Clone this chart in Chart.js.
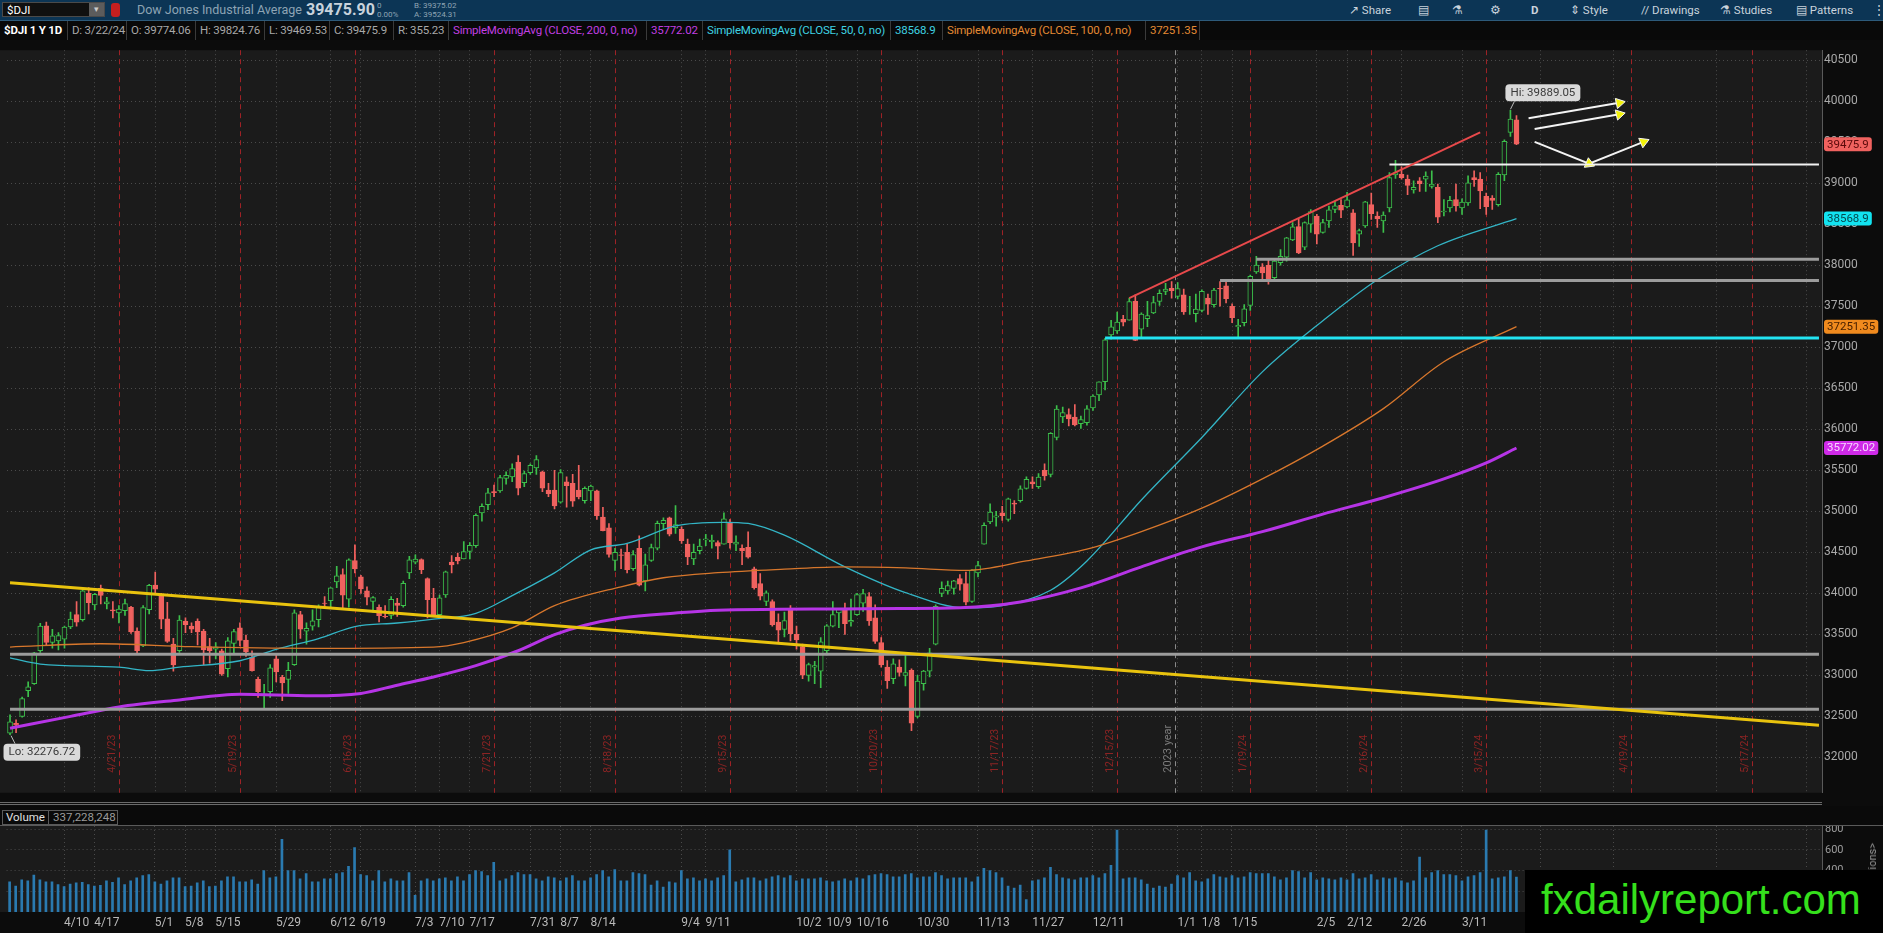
<!DOCTYPE html>
<html lang="en">
<head>
<meta charset="UTF-8">
<title>$DJI 1 Y 1D</title>
<script src="https://cdn.jsdelivr.net/npm/chart.js"></script>
<style>
  html, body { margin: 0; padding: 0; background: #0c0c0c; }
  body { width: 1883px; height: 933px; position: relative; overflow: hidden; font-family: Roboto, "Open Sans", sans-serif; }
  .abs { position: absolute; white-space: nowrap; }
  #toolbar { left: 0; top: 0; width: 1883px; height: 20px; background: #0c3555; border-bottom: 1px solid #2d5a7a; }
  #infobar { left: 0; top: 21px; width: 1883px; height: 19px; background: #090909; }
  .cell { position: absolute; top: 0; height: 19px; line-height: 19px; font-size: 11.5px; color: #a8a8a8; padding-left: 4px; box-sizing: border-box; border-right: 1px solid #3a3a3a; letter-spacing: -0.2px; }
  .tb { position: absolute; top: 0; height: 20px; line-height: 20px; font-size: 11.5px; color: #c9d3dc; }
  #priceBox { left: 0; top: 41px; width: 1883px; height: 761px; }
  #volBox { left: 0; top: 806px; width: 1883px; height: 127px; }
</style>
</head>
<body>

<div id="toolbar" class="abs">
  <div class="abs" style="left:2px;top:2px;width:103px;height:15px;background:#101010;border:1px solid #4a4a4a;box-sizing:border-box;"></div>
  <div class="tb" style="left:7px;color:#fff;font-size:11.5px;">$DJI</div>
  <div class="abs" style="left:89px;top:3px;width:15px;height:13px;background:#5c5c5c;color:#ccc;font-size:9px;text-align:center;line-height:13px;">&#9662;</div>
  <div class="abs" style="left:111px;top:3px;width:9px;height:14px;background:#c41f1f;border-radius:3px;"></div>
  <div class="tb" style="left:137px;color:#8ea4b4;font-size:12.5px;">Dow Jones Industrial Average</div>
  <div class="tb" style="left:306px;font-size:16px;font-weight:bold;color:#c8d2dc;">39475.90</div>
  <div class="abs" style="left:377px;top:1px;font-size:8px;line-height:9px;color:#8ea4b4;">0<br>0.00%</div>
  <div class="abs" style="left:414px;top:1px;font-size:8px;line-height:9px;color:#8ea4b4;">B: 39375.02<br>A: 39524.31</div>

  <div class="tb" style="left:1349px;">&#8599;&#xFE0E; Share</div>
  <div class="tb" style="left:1418px;">&#9636;</div>
  <div class="tb" style="left:1452px;">&#9879;</div>
  <div class="tb" style="left:1490px;">&#9881;</div>
  <div class="tb" style="left:1531px;font-weight:bold;">D</div>
  <div class="tb" style="left:1570px;">&#8661; Style</div>
  <div class="tb" style="left:1641px;">// Drawings</div>
  <div class="tb" style="left:1720px;">&#9879; Studies</div>
  <div class="tb" style="left:1796px;">&#9636; Patterns</div>
  <div class="tb" style="left:1873px;">&#8942;</div>
</div>

<div id="infobar" class="abs">
  <div class="cell" style="left:0;width:68px;color:#fff;font-weight:bold;">$DJI 1 Y 1D</div>
  <div class="cell" style="left:68px;width:59px;">D: 3/22/24</div>
  <div class="cell" style="left:127px;width:69px;">O: 39774.06</div>
  <div class="cell" style="left:196px;width:69px;">H: 39824.76</div>
  <div class="cell" style="left:265px;width:65px;">L: 39469.53</div>
  <div class="cell" style="left:330px;width:64px;">C: 39475.9</div>
  <div class="cell" style="left:394px;width:55px;">R: 355.23</div>
  <div class="cell" style="left:449px;width:198px;color:#c23fe2;">SimpleMovingAvg (CLOSE, 200, 0, no)</div>
  <div class="cell" style="left:647px;width:56px;color:#c23fe2;">35772.02</div>
  <div class="cell" style="left:703px;width:188px;color:#3fd2e2;">SimpleMovingAvg (CLOSE, 50, 0, no)</div>
  <div class="cell" style="left:891px;width:52px;color:#3fd2e2;">38568.9</div>
  <div class="cell" style="left:943px;width:203px;color:#e48a34;">SimpleMovingAvg (CLOSE, 100, 0, no)</div>
  <div class="cell" style="left:1146px;width:54px;color:#e48a34;">37251.35</div>
</div>

<div id="priceBox" class="abs"><canvas id="priceChart"></canvas></div>

<div class="abs" style="left:0;top:802px;width:1822px;height:1px;background:#6a6a6a;"></div>
<div class="abs" style="left:0;top:804px;width:1822px;height:1px;background:#6a6a6a;"></div>

<div id="volBox" class="abs"><canvas id="volChart"></canvas></div>

<div class="abs" style="left:0;top:806px;width:1883px;height:20px;background:#0a0a0a;border-bottom:1px solid #5a5a5a;box-sizing:border-box;z-index:2;">
  <div class="abs" style="left:2px;top:4px;width:47px;height:15px;border:1px solid #5a5a5a;box-sizing:border-box;color:#e0e0e0;font-size:11.5px;line-height:13px;padding-left:3px;">Volume</div>
  <div class="abs" style="left:49px;top:4px;width:69px;height:15px;border:1px solid #5a5a5a;border-left:none;box-sizing:border-box;color:#9a9a9a;font-size:11.5px;line-height:13px;padding-left:4px;">337,228,248</div>
</div>

<div class="abs" style="left:1866px;top:843px;writing-mode:vertical-rl;transform:rotate(180deg);font-size:11px;color:#999;">&lt;Millions&gt;</div>

<div class="abs" style="left:1525px;top:870px;width:358px;height:63px;background:#000;z-index:3;">
  <div class="abs" style="left:16px;top:6px;font-family:'Liberation Sans',Arial,sans-serif;font-size:42px;color:#35e01c;">fxdailyreport.com</div>
</div>

<script>
// trading days shown on the chart, then empty future slots
const dates = [
  '3/27/23','3/28/23','3/29/23','3/30/23','3/31/23',
  '4/3/23','4/4/23','4/5/23','4/6/23','4/10/23','4/11/23','4/12/23','4/13/23','4/14/23','4/17/23','4/18/23','4/19/23','4/20/23','4/21/23','4/24/23','4/25/23','4/26/23','4/27/23','4/28/23',
  '5/1/23','5/2/23','5/3/23','5/4/23','5/5/23','5/8/23','5/9/23','5/10/23','5/11/23','5/12/23','5/15/23','5/16/23','5/17/23','5/18/23','5/19/23','5/22/23','5/23/23','5/24/23','5/25/23','5/26/23','5/30/23','5/31/23',
  '6/1/23','6/2/23','6/5/23','6/6/23','6/7/23','6/8/23','6/9/23','6/12/23','6/13/23','6/14/23','6/15/23','6/16/23','6/20/23','6/21/23','6/22/23','6/23/23','6/26/23','6/27/23','6/28/23','6/29/23','6/30/23',
  '7/3/23','7/5/23','7/6/23','7/7/23','7/10/23','7/11/23','7/12/23','7/13/23','7/14/23','7/17/23','7/18/23','7/19/23','7/20/23','7/21/23','7/24/23','7/25/23','7/26/23','7/27/23','7/28/23','7/31/23',
  '8/1/23','8/2/23','8/3/23','8/4/23','8/7/23','8/8/23','8/9/23','8/10/23','8/11/23','8/14/23','8/15/23','8/16/23','8/17/23','8/18/23','8/21/23','8/22/23','8/23/23','8/24/23','8/25/23','8/28/23','8/29/23','8/30/23','8/31/23',
  '9/1/23','9/5/23','9/6/23','9/7/23','9/8/23','9/11/23','9/12/23','9/13/23','9/14/23','9/15/23','9/18/23','9/19/23','9/20/23','9/21/23','9/22/23','9/25/23','9/26/23','9/27/23','9/28/23','9/29/23',
  '10/2/23','10/3/23','10/4/23','10/5/23','10/6/23','10/9/23','10/10/23','10/11/23','10/12/23','10/13/23','10/16/23','10/17/23','10/18/23','10/19/23','10/20/23','10/23/23','10/24/23','10/25/23','10/26/23','10/27/23','10/30/23','10/31/23',
  '11/1/23','11/2/23','11/3/23','11/6/23','11/7/23','11/8/23','11/9/23','11/10/23','11/13/23','11/14/23','11/15/23','11/16/23','11/17/23','11/20/23','11/21/23','11/22/23','11/24/23','11/27/23','11/28/23','11/29/23','11/30/23',
  '12/1/23','12/4/23','12/5/23','12/6/23','12/7/23','12/8/23','12/11/23','12/12/23','12/13/23','12/14/23','12/15/23','12/18/23','12/19/23','12/20/23','12/21/23','12/22/23','12/26/23','12/27/23','12/28/23','12/29/23',
  '1/2/24','1/3/24','1/4/24','1/5/24','1/8/24','1/9/24','1/10/24','1/11/24','1/12/24','1/16/24','1/17/24','1/18/24','1/19/24','1/22/24','1/23/24','1/24/24','1/25/24','1/26/24','1/29/24','1/30/24','1/31/24',
  '2/1/24','2/2/24','2/5/24','2/6/24','2/7/24','2/8/24','2/9/24','2/12/24','2/13/24','2/14/24','2/15/24','2/16/24','2/20/24','2/21/24','2/22/24','2/23/24','2/26/24','2/27/24','2/28/24','2/29/24',
  '3/1/24','3/4/24','3/5/24','3/6/24','3/7/24','3/8/24','3/11/24','3/12/24','3/13/24','3/14/24','3/15/24','3/18/24','3/19/24','3/20/24','3/21/24','3/22/24'
];
const futureDates = [
  '3/25/24','3/26/24','3/27/24','3/28/24',
  '4/1/24','4/2/24','4/3/24','4/4/24','4/5/24','4/8/24','4/9/24','4/10/24','4/11/24','4/12/24','4/15/24','4/16/24','4/17/24','4/18/24','4/19/24','4/22/24','4/23/24','4/24/24','4/25/24','4/26/24','4/29/24','4/30/24',
  '5/1/24','5/2/24','5/3/24','5/6/24','5/7/24','5/8/24','5/9/24','5/10/24','5/13/24','5/14/24','5/15/24','5/16/24','5/17/24','5/20/24','5/21/24','5/22/24','5/23/24','5/24/24','5/28/24','5/29/24','5/30/24','5/31/24',
  '6/3/24','6/4/24'
];

const open = [
  32296,32414,32500,32812,32900,
  33300,33604,33400,33420,33440,33590,33740,33680,34000,33860,34060,33870,33800,33760,33790,33830,33540,33360,33800,
  34100,33980,33690,33380,33300,33660,33600,33660,33540,33350,33320,33300,33080,33390,33580,33430,33220,32950,32760,32800,33200,32980,
  32950,33130,33740,33540,33600,33680,33880,33910,34140,34230,33930,34400,34200,34030,33900,33830,33720,33730,33880,33850,34250,
  34380,34410,34180,33940,33740,33980,34380,34440,34420,34510,34580,34980,35080,35240,35250,35400,35420,35600,35350,35470,
  35530,35480,35260,35260,35110,35360,35340,35260,35130,35250,35250,34930,34800,34400,34470,34500,34300,34550,34150,34400,34550,34850,34920,
  34800,34780,34600,34420,34520,34650,34630,34620,34600,34870,34600,34550,34560,34300,34120,33900,33900,33650,33560,33800,
  33500,33350,33000,33100,33050,33300,33600,33760,33800,33650,33740,33880,33960,33700,33400,33100,32960,33100,33000,33060,32500,32900,
  33050,33380,34000,34030,34060,34180,34120,33900,34250,34600,34870,34930,34980,34900,35100,35130,35280,35360,35300,35500,35450,
  35900,36150,36180,36150,36070,36080,36260,36420,36580,37150,37200,37340,37330,37560,37220,37350,37420,37560,37680,37720,
  37620,37640,37440,37410,37450,37600,37520,37720,37750,37500,37250,37300,37510,37920,37980,38000,37850,38030,38100,38310,38470,
  38220,38500,38600,38400,38540,38680,38730,38710,38640,38380,38480,38740,38600,38540,38700,39100,39110,39050,38920,39030,
  39050,38960,38950,38650,38700,38800,38700,38760,39070,39050,38840,38820,38740,39100,39620,39774
];
const high = [
  32520,32458,32735,32920,33280,
  33635,33650,33560,33520,33600,33770,33900,34050,34070,34000,34100,33950,33900,33850,33930,33840,33580,33850,34110,
  34260,34000,33890,33450,33730,33700,33640,33690,33560,33450,33400,33320,33460,33560,33640,33490,33300,32980,32890,33130,33260,33000,
  33160,33800,33780,33640,33800,33860,33960,34070,34330,34300,34420,34590,34220,34080,33960,33860,33850,33960,33940,34150,34450,
  34470,34420,34190,34060,33980,34270,34460,34490,34630,34620,34970,35090,35280,35320,35440,35480,35580,35680,35490,35580,
  35680,35490,35340,35500,35510,35420,35450,35560,35300,35320,35260,35050,34850,34550,34540,34600,34520,34700,34480,34600,34880,34920,34930,
  35070,34810,34660,34600,34660,34720,34710,34640,34980,34900,34700,34590,34750,34320,34240,34030,33920,33750,33770,33850,
  33600,33380,33150,33170,33460,33620,33900,33810,33880,33930,34000,34050,34010,33860,33460,33180,33200,33190,33250,33080,33000,33060,
  33330,33860,34140,34150,34160,34230,34260,34290,34390,34860,35090,35000,35060,35160,35130,35310,35420,35420,35460,35580,35960,
  36290,36270,36250,36300,36160,36290,36420,36580,37110,37330,37430,37390,37600,37640,37420,37560,37620,37700,37780,37800,
  37790,37710,37620,37650,37700,37650,37720,37800,37810,37530,37340,37520,37880,38110,38020,38060,38080,38190,38340,38520,38570,
  38530,38680,38620,38560,38720,38780,38800,38890,38680,38440,38780,38880,38650,38650,39130,39280,39200,39100,39030,39070,
  39140,39150,38990,38800,38840,38990,38810,39090,39150,39130,38880,38850,39130,39530,39889,39825
];
const low = [
  32277,32300,32490,32740,32890,
  33280,33370,33330,33310,33330,33570,33600,33660,33750,33800,33870,33810,33700,33640,33730,33510,33270,33350,33750,
  34000,33570,33400,33050,33280,33520,33520,33370,33130,33150,33200,33000,32980,33270,33360,33230,33050,32730,32590,32730,32920,32690,
  32780,33120,33450,33380,33550,33590,33830,33830,34070,33800,33830,34250,34000,33860,33770,33650,33700,33690,33720,33830,34180,
  34360,34240,33700,33730,33700,33950,34250,34360,34420,34420,34560,34880,35020,35180,35230,35330,35360,35200,35300,35450,
  35450,35240,35180,35030,35100,35050,35060,35150,35100,35130,34900,34760,34440,34280,34300,34250,34280,34090,34030,34390,34530,34780,34700,
  34730,34610,34350,34350,34480,34580,34550,34420,34600,34550,34520,34350,34430,34050,33920,33850,33600,33390,33470,33420,
  33320,32960,32930,32900,32850,33250,33590,33580,33500,33600,33730,33780,33610,33390,33100,32840,32900,32990,32870,32327,32480,32820,
  32980,33370,33960,33990,33990,34040,33860,33890,34200,34600,34850,34820,34890,34880,34970,35110,35270,35280,35280,35380,35420,
  35870,36080,36040,36040,36010,36050,36230,36350,36480,37100,37170,37260,37330,37080,37110,37250,37410,37510,37640,37600,
  37590,37400,37400,37310,37430,37400,37490,37500,37540,37300,37120,37260,37450,37900,37800,37770,37800,38000,38050,38300,38140,
  38190,38400,38260,38390,38460,38640,38580,38700,38120,38230,38460,38560,38460,38400,38650,39060,39050,38860,38880,38900,
  38900,38940,38520,38600,38650,38660,38620,38730,38960,38690,38620,38680,38720,39030,39570,39470
];
const close = [
  32432,32394,32717,32859,33274,
  33601,33403,33482,33485,33587,33685,33647,34030,33886,33987,33976,33897,33786,33809,33875,33531,33302,33827,34098,
  34051,33684,33415,33128,33674,33619,33562,33531,33309,33300,33349,33013,33420,33535,33427,33286,33056,32800,32765,33093,33043,32908,
  33061,33763,33563,33573,33665,33833,33877,34066,34212,33979,34408,34299,34054,33952,33947,33727,33714,33927,33853,34122,34408,
  34418,34288,33922,33734,33945,34262,34347,34395,34509,34585,34952,35061,35225,35228,35411,35438,35520,35282,35459,35560,
  35630,35283,35215,35066,35473,35314,35123,35176,35281,35308,34946,34765,34474,34500,34463,34288,34473,34099,34346,34559,34852,34890,34722,
  34838,34642,34443,34500,34577,34664,34646,34576,34907,34618,34624,34518,34441,34070,33964,34007,33619,33551,33667,33508,
  33433,33003,33130,33120,33408,33605,33740,33805,33631,33670,33985,33998,33665,33415,33127,32936,33141,33036,33035,32418,32929,33053,
  33275,33840,34061,34096,34153,34112,33892,34283,34337,34828,34992,34946,34947,35151,35088,35273,35390,35333,35417,35430,35951,
  36246,36204,36125,36054,36118,36248,36405,36578,37090,37248,37306,37307,37558,37083,37405,37386,37545,37657,37711,37690,
  37715,37430,37440,37466,37683,37525,37696,37711,37593,37361,37267,37469,37864,38002,37906,37806,38050,38109,38333,38467,38150,
  38520,38654,38380,38521,38677,38726,38671,38797,38273,38424,38773,38628,38564,38612,39069,39131,39069,38972,38949,38996,
  39087,38990,38585,38661,38791,38723,38770,39005,39043,38906,38715,38790,39110,39512,39781,39476
];
// volume in millions
const volume = [
  292,250,310,300,357,
  310,292,292,265,245,270,280,285,265,250,258,300,285,330,265,300,330,350,360,
  290,270,300,330,330,245,250,280,300,245,250,300,340,340,290,290,310,270,400,330,340,700,
  400,400,320,370,290,290,320,320,370,380,440,620,360,350,300,400,290,320,300,300,380,
  160,300,320,300,320,330,300,340,300,360,400,390,350,480,300,320,350,380,360,360,
  320,300,340,330,300,330,350,300,300,330,360,400,340,410,300,300,380,370,360,260,300,240,290,
  280,400,320,330,300,320,300,330,350,600,290,310,330,330,300,320,340,350,330,350,
  300,320,320,320,330,300,290,300,320,300,330,320,350,360,370,360,340,340,360,370,330,340,
  340,380,350,320,330,330,330,290,340,420,400,380,330,250,230,260,120,300,310,330,430,
  360,330,320,310,330,330,350,330,370,450,790,320,330,330,310,270,230,250,240,270,
  350,330,380,300,290,320,360,340,330,350,330,340,380,370,370,370,340,310,330,400,390,
  330,380,310,330,320,310,330,310,370,320,330,360,310,330,320,330,300,280,300,530,
  330,380,400,360,360,350,300,340,350,380,790,320,330,340,400,337
];

// moving averages at sample bars
const sma200Idx = [0,10,18,28,38,50,58,64,70,77,84,90,95,101,110,117,127,137,147,157,167,177,187,197,207,217,227,237,244,249];
const sma200Val = [32354,32500,32615,32700,32770,32750,32780,32880,32980,33118,33300,33496,33610,33698,33760,33795,33805,33809,33815,33823,33894,34066,34323,34566,34752,34966,35166,35395,35590,35772];
const sma100Idx = [0,15,30,50,70,75,83,90,101,108,117,128,138,148,158,168,178,187,197,207,217,227,237,249];
const sma100Val = [33345,33385,33350,33330,33345,33400,33578,33850,34080,34190,34252,34295,34323,34310,34280,34395,34538,34752,35038,35395,35795,36252,36824,37251];
const sma50Idx = [0,5,18,23,28,38,44,51,57,64,70,77,83,90,96,102,110,118,122,128,138,148,158,164,172,178,187,197,207,217,226,236,249];
const sma50Val = [33212,33138,33100,33058,33100,33178,33317,33448,33594,33638,33686,33757,33972,34249,34530,34609,34823,34866,34852,34709,34323,34009,33823,33851,34038,34395,35138,35900,36700,37324,37824,38238,38569];

// axis ticks
const priceTicks = [32000,32500,33000,33500,34000,34500,35000,35500,36000,36500,37000,37500,38000,38500,39000,39500,40000,40500];
const volumeTicks = [200,400,600,800];

// week labels under the volume pane
const tickDates = ['4/10/23','4/17/23','5/1/23','5/8/23','5/15/23','5/30/23','6/12/23','6/20/23','7/3/23','7/10/23','7/17/23','7/31/23','8/7/23','8/14/23','9/5/23','9/11/23','10/2/23','10/9/23','10/16/23','10/30/23','11/13/23','11/27/23','12/11/23','1/2/24','1/8/24','1/16/24','2/5/24','2/12/24','2/26/24','3/11/24'];
const tickText = ['4/10','4/17','5/1','5/8','5/15','5/29','6/12','6/19','7/3','7/10','7/17','7/31','8/7','8/14','9/4','9/11','10/2','10/9','10/16','10/30','11/13','11/27','12/11','1/1','1/8','1/15','2/5','2/12','2/26','3/11'];
const futureGrid = ['3/28/24','4/16/24','5/9/24','5/31/24'];
const expiryDates = ['4/21/23','5/19/23','6/16/23','7/21/23','8/18/23','9/15/23','10/20/23','11/17/23','12/15/23','1/19/24','2/16/24','3/15/24','4/19/24','5/17/24'];

// hand drawn lines: [start date, start price, end date, end price]
const yellowTrend = ['3/27/23', 34130, '6/4/24', 32392];
const redTrend = ['12/19/23', 37600, '3/14/24', 39620];
const levels = [
  { from: '3/27/23', price: 33257, color: '#9c9c9c', width: 3 },
  { from: '3/27/23', price: 32588, color: '#9c9c9c', width: 3 },
  { from: '1/22/24', price: 38073, color: '#9c9c9c', width: 3 },
  { from: '1/11/24', price: 37814, color: '#9c9c9c', width: 3 },
  { from: '12/13/23', price: 37112, color: '#22e4f2', width: 3 },
  { from: '2/22/24', price: 39227, color: '#f2f2f2', width: 2 }
];
const arrowA = [['3/26/24', 39793], ['4/17/24', 39980]];
const arrowB = [['3/27/24', 39662], ['4/17/24', 39840]];
const arrowC = [['3/27/24', 39504], ['4/10/24', 39238], ['4/23/24', 39504]];

const tags = [
  { value: 39475.9, text: '39475.9', bg: '#f0625f', fg: '#5a0a0a' },
  { value: 38568.9, text: '38568.9', bg: '#12e3f0', fg: '#05484e' },
  { value: 37251.35, text: '37251.35', bg: '#f08a1e', fg: '#4a2100' },
  { value: 35772.02, text: '35772.02', bg: '#cf2ae8', fg: '#f7d8ff' }
];

const labels = dates.concat(futureDates);
const GREEN = '#3cc04b', RED = '#f0625f', PLOT_BG = '#1b1b1b', GRID = '#4a4a4a';
const isUp = close.map((c, i) => c >= open[i]);
const gridSet = new Set(tickDates.concat(futureGrid).map(d => labels.indexOf(d)));

function seg(pts) { return pts.map(p => ({ x: p[0], y: p[1] })); }
function lineSet(data, color, width, extra) {
  return Object.assign({ type: 'line', data: data, borderColor: color, borderWidth: width, pointRadius: 0, order: 0, clip: false }, extra || {});
}
function arrowSet(pts, rotations) {
  return lineSet(seg(pts), '#f4f4f4', 2, {
    pointRadius: pts.map((p, i) => i === 0 ? 0 : 6),
    pointStyle: 'triangle',
    pointRotation: pts.map((p, i) => i === 0 ? 0 : rotations[i - 1]),
    pointBackgroundColor: '#f2f20a',
    pointBorderColor: '#f4f4f4',
    pointBorderWidth: 1
  });
}

const plotBg = {
  id: 'plotBg',
  beforeDraw(chart) {
    const a = chart.chartArea, ctx = chart.ctx;
    ctx.save();
    ctx.fillStyle = PLOT_BG;
    ctx.fillRect(a.left - 7, a.top, a.right - a.left + 7, a.bottom - a.top);
    ctx.restore();
  }
};

const expiryLines = {
  id: 'expiryLines',
  beforeDatasetsDraw(chart) {
    const a = chart.chartArea, ctx = chart.ctx, x = chart.scales.x;
    ctx.save();
    ctx.lineWidth = 1;
    ctx.setLineDash([5, 4]);
    ctx.font = '10.5px Roboto, sans-serif';
    expiryDates.forEach(d => {
      const px = Math.round(x.getPixelForValue(labels.indexOf(d))) + 0.5;
      ctx.strokeStyle = '#9e2226';
      ctx.beginPath(); ctx.moveTo(px, a.top); ctx.lineTo(px, a.bottom); ctx.stroke();
      ctx.save();
      ctx.translate(px - 2, a.bottom - 20);
      ctx.rotate(-Math.PI / 2);
      ctx.fillStyle = '#8c2424';
      ctx.textBaseline = 'bottom';
      ctx.fillText(d, 0, 0);
      ctx.restore();
    });
    // year separator
    const yx = Math.round((x.getPixelForValue(labels.indexOf('12/29/23')) + x.getPixelForValue(labels.indexOf('1/2/24'))) / 2) + 0.5;
    ctx.strokeStyle = '#8a8a8a';
    ctx.beginPath(); ctx.moveTo(yx, a.top); ctx.lineTo(yx, a.bottom); ctx.stroke();
    ctx.translate(yx - 2, a.bottom - 20);
    ctx.rotate(-Math.PI / 2);
    ctx.fillStyle = '#7a7a7a';
    ctx.textBaseline = 'bottom';
    ctx.font = '11px Roboto, sans-serif';
    ctx.fillText('2023 year', 0, 0);
    ctx.restore();
  }
};

function roundBox(ctx, x, y, w, h, r) {
  ctx.beginPath();
  ctx.moveTo(x + r, y);
  ctx.arcTo(x + w, y, x + w, y + h, r);
  ctx.arcTo(x + w, y + h, x, y + h, r);
  ctx.arcTo(x, y + h, x, y, r);
  ctx.arcTo(x, y, x + w, y, r);
  ctx.closePath();
}

const priceOverlay = {
  id: 'priceOverlay',
  afterDraw(chart) {
    const ctx = chart.ctx, x = chart.scales.x, y = chart.scales.y, a = chart.chartArea;
    ctx.save();
    ctx.font = '11.5px Roboto, sans-serif';
    ctx.textBaseline = 'middle';
    tags.forEach(t => {
      const py = y.getPixelForValue(t.value);
      const w = ctx.measureText(t.text).width + 6;
      ctx.fillStyle = t.bg;
      roundBox(ctx, a.right + 2, py - 7, w, 14, 3);
      ctx.fill();
      ctx.fillStyle = t.fg;
      ctx.fillText(t.text, a.right + 5, py + 0.5);
    });

    // high / low callouts
    const hiIdx = high.indexOf(Math.max.apply(null, high));
    const loIdx = low.indexOf(Math.min.apply(null, low));
    const hx = x.getPixelForValue(hiIdx), hy = y.getPixelForValue(high[hiIdx]);
    const lx = x.getPixelForValue(loIdx), ly = y.getPixelForValue(low[loIdx]);
    ctx.strokeStyle = '#bdbdbd';
    ctx.lineWidth = 1;
    ctx.beginPath(); ctx.moveTo(hx + 4, hy - 9); ctx.lineTo(hx, hy - 1); ctx.stroke();
    ctx.beginPath(); ctx.moveTo(lx + 1, ly + 1); ctx.lineTo(lx + 5, ly + 9); ctx.stroke();
    const hiText = 'Hi: 39889.05', loText = 'Lo: 32276.72';
    ctx.fillStyle = '#d9d9d9';
    roundBox(ctx, hx - 5, hy - 26, ctx.measureText(hiText).width + 10, 17, 4); ctx.fill();
    roundBox(ctx, lx - 6.5, ly + 9, ctx.measureText(loText).width + 10, 17, 4); ctx.fill();
    ctx.fillStyle = '#3a3a3a';
    ctx.fillText(hiText, hx, hy - 17.5);
    ctx.fillText(loText, lx - 1.5, ly + 17.5);
    ctx.restore();
  }
};

const priceDatasets = [
  {
    label: 'wick', data: low.map((l, i) => [l, high[i]]),
    backgroundColor: isUp.map(u => u ? GREEN : RED),
    barThickness: 1, grouped: false, order: 3
  },
  {
    label: 'body', data: open.map((o, i) => [o, close[i]]),
    backgroundColor: isUp.map(u => u ? PLOT_BG : RED),
    borderColor: isUp.map(u => u ? GREEN : RED),
    borderWidth: 1, borderSkipped: false,
    barThickness: 5, grouped: false, order: 2
  },
  lineSet(sma200Idx.map((k, i) => ({ x: labels[k], y: sma200Val[i] })), '#b634e6', 3, { order: 1, cubicInterpolationMode: 'monotone' }),
  lineSet(sma100Idx.map((k, i) => ({ x: labels[k], y: sma100Val[i] })), '#d8772c', 1.3, { order: 1, cubicInterpolationMode: 'monotone' }),
  lineSet(sma50Idx.map((k, i) => ({ x: labels[k], y: sma50Val[i] })), '#33b5c6', 1.3, { order: 1, cubicInterpolationMode: 'monotone' }),
  lineSet([{ x: yellowTrend[0], y: yellowTrend[1] }, { x: yellowTrend[2], y: yellowTrend[3] }], '#e9c30e', 3),
  lineSet([{ x: redTrend[0], y: redTrend[1] }, { x: redTrend[2], y: redTrend[3] }], '#e8494b', 2)
];
levels.forEach(l => {
  priceDatasets.push(lineSet([{ x: l.from, y: l.price }, { x: labels[labels.length - 1], y: l.price }], l.color, l.width));
});
priceDatasets.push(arrowSet(arrowA, [78]));
priceDatasets.push(arrowSet(arrowB, [77]));
priceDatasets.push(arrowSet(arrowC, [113, 67]));

const baseFont = { family: 'Roboto, sans-serif', size: 12 };
const fixedTicks = list => scale => { scale.ticks = list.map(v => ({ value: v })); };

new Chart(document.getElementById('priceChart'), {
  type: 'bar',
  data: { labels: labels, datasets: priceDatasets },
  options: {
    responsive: true, maintainAspectRatio: false, animation: false,
    layout: { padding: { left: 6.6, top: 0, right: 0, bottom: 0 } },
    plugins: { legend: { display: false }, tooltip: { enabled: false } },
    scales: {
      x: {
        type: 'category', offset: true,
        ticks: { display: false, autoSkip: false },
        grid: { offset: false, drawTicks: false, color: c => gridSet.has(c.index) ? GRID : 'transparent' },
        border: { display: false, dash: [1, 3] },
        afterFit: s => { s.height = 0; }
      },
      y: {
        position: 'right', min: 31568, max: 40622,
        afterBuildTicks: fixedTicks(priceTicks),
        ticks: { color: '#a9a9a9', font: baseFont, padding: 2, callback: v => String(v) },
        grid: { color: GRID, drawTicks: false },
        border: { display: true, color: '#5a5a5a', dash: [1, 3] },
        afterFit: s => { s.width = 61; }
      }
    }
  },
  plugins: [plotBg, expiryLines, priceOverlay]
});

new Chart(document.getElementById('volChart'), {
  type: 'bar',
  data: {
    labels: labels,
    datasets: [{ label: 'Volume', data: volume, backgroundColor: '#2a7ab0', barThickness: 2 }]
  },
  options: {
    responsive: true, maintainAspectRatio: false, animation: false,
    layout: { padding: { left: 6.6, top: 20, right: 0, bottom: 0 } },
    plugins: { legend: { display: false }, tooltip: { enabled: false } },
    scales: {
      x: {
        type: 'category', offset: true,
        ticks: {
          autoSkip: false, maxRotation: 0, minRotation: 0, align: 'start', padding: 4,
          color: '#b9b9b9', font: baseFont,
          callback: (v, i) => { const k = tickDates.indexOf(labels[i]); return k < 0 ? '' : tickText[k]; }
        },
        grid: { offset: false, drawTicks: false, color: c => gridSet.has(c.index) ? GRID : 'transparent' },
        border: { display: false, dash: [1, 3] },
        afterFit: s => { s.height = 21; }
      },
      y: {
        position: 'right', min: 0, max: 829,
        afterBuildTicks: fixedTicks(volumeTicks),
        ticks: { color: '#9c9c9c', font: { family: 'Roboto, sans-serif', size: 11 }, padding: 3, callback: v => String(v) },
        grid: { color: GRID, drawTicks: false },
        border: { display: true, color: '#5a5a5a', dash: [1, 3] },
        afterFit: s => { s.width = 61; }
      }
    }
  },
  plugins: [plotBg]
});
</script>
</body>
</html>
